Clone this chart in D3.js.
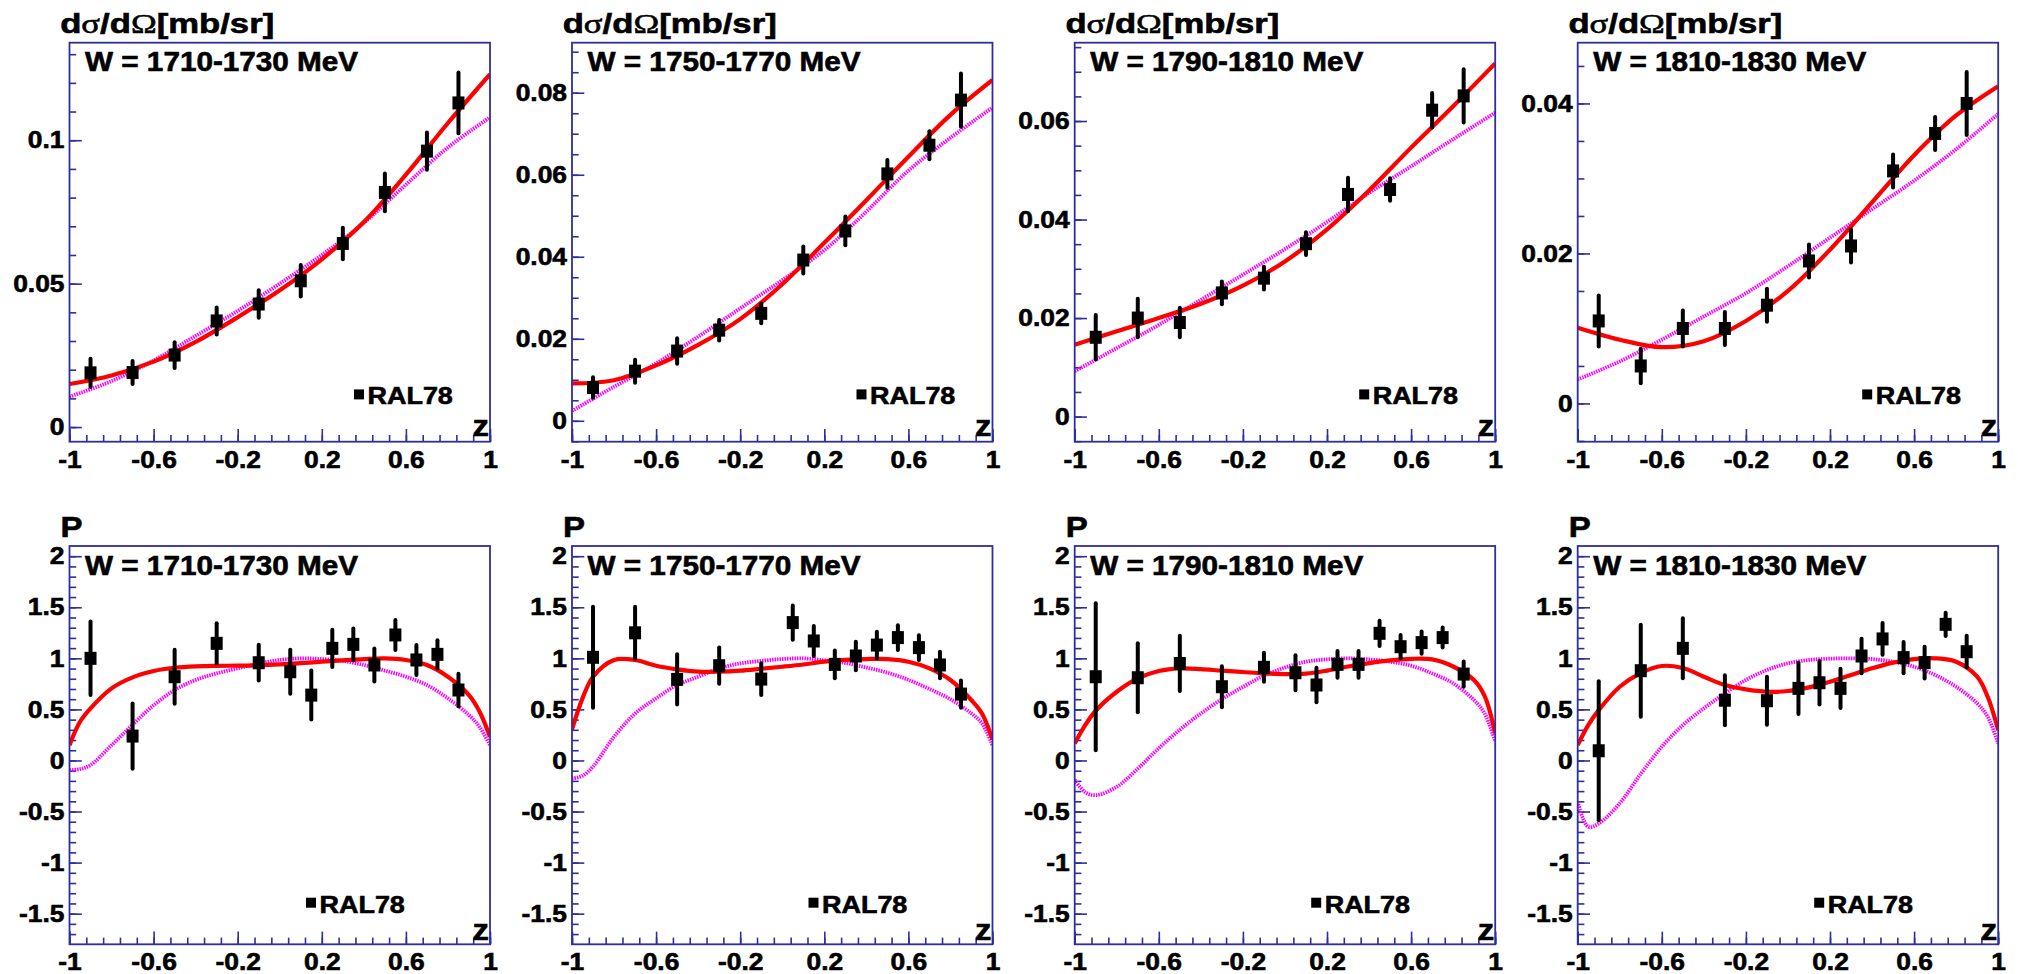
<!DOCTYPE html>
<html>
<head>
<meta charset="utf-8">
<script src="https://cdn.jsdelivr.net/npm/d3@7/dist/d3.min.js"></script>
<style>
  body { margin: 0; background: #ffffff; }
  svg { display: block; }
  text { font-family: "Liberation Sans", Arial, Helvetica, sans-serif; font-weight: bold; fill: #000; stroke: #000; stroke-width: 0.6px; }
</style>
</head>
<body>
<svg id="chart" width="2018" height="974"></svg>
<script>
// ---------- data ----------
const energyBins = ["W = 1710-1730 MeV", "W = 1750-1770 MeV", "W = 1790-1810 MeV", "W = 1810-1830 MeV"];
const legendLabel = "RAL78";

// x axis (z = cos theta)
const zTicks = [-1, -0.6, -0.2, 0.2, 0.6, 1];

// differential cross section, RAL78 points
const dsZ = [-0.9, -0.7, -0.5, -0.3, -0.1, 0.1, 0.3, 0.5, 0.7, 0.85];
const dsValues = [
  [0.0189, 0.0190, 0.0251, 0.0370, 0.0429, 0.0510, 0.0640, 0.0818, 0.0962, 0.1130],
  [0.0081, 0.0121, 0.0170, 0.0221, 0.0262, 0.0392, 0.0463, 0.0602, 0.0672, 0.0782],
  [0.0161, 0.0200, 0.0191, 0.0251, 0.0281, 0.0351, 0.0451, 0.0461, 0.0622, 0.0651],
  [0.0110, 0.0050, 0.0100, 0.0100, 0.0131, 0.0190, 0.0210, 0.0310, 0.0360, 0.0400]
];
const dsErrors = [
  [0.0049, 0.0040, 0.0045, 0.0047, 0.0048, 0.0055, 0.0055, 0.0066, 0.0065, 0.0106],
  [0.0025, 0.0028, 0.0031, 0.0025, 0.0024, 0.0033, 0.0035, 0.0034, 0.0034, 0.0065],
  [0.0045, 0.0039, 0.0030, 0.0023, 0.0023, 0.0023, 0.0034, 0.0023, 0.0035, 0.0054],
  [0.0034, 0.0023, 0.0024, 0.0022, 0.0022, 0.0022, 0.0022, 0.0022, 0.0022, 0.0042]
];
// fit curves for the cross section (solid red = full fit, dotted magenta = alternative)
const dsCurveZ = [-1, -0.8, -0.6, -0.4, -0.2, 0, 0.2, 0.4, 0.6, 0.8, 1];
const dsFitMain = [
  [0.0150, 0.0180, 0.0228, 0.0297, 0.0383, 0.0477, 0.0585, 0.0715, 0.0880, 0.1060, 0.1230],
  [0.0091, 0.0099, 0.0135, 0.0185, 0.0248, 0.0333, 0.0434, 0.0538, 0.0644, 0.0746, 0.0831],
  [0.0146, 0.0173, 0.0200, 0.0229, 0.0266, 0.0315, 0.0380, 0.0459, 0.0546, 0.0630, 0.0717],
  [0.0101, 0.0085, 0.0075, 0.0083, 0.0110, 0.0150, 0.0205, 0.0268, 0.0331, 0.0384, 0.0423]
];
const dsFitAlt = [
  [0.0106, 0.0160, 0.0232, 0.0318, 0.0405, 0.0500, 0.0600, 0.0712, 0.0845, 0.0975, 0.1080],
  [0.0024, 0.0083, 0.0140, 0.0205, 0.0274, 0.0343, 0.0416, 0.0510, 0.0610, 0.0690, 0.0764],
  [0.0092, 0.0139, 0.0186, 0.0237, 0.0288, 0.0340, 0.0395, 0.0454, 0.0508, 0.0563, 0.0617],
  [0.0032, 0.0056, 0.0085, 0.0116, 0.0147, 0.0183, 0.0221, 0.0259, 0.0297, 0.0339, 0.0386]
];
const dsYRange = [[-0.0051, 0.1340], [-0.0051, 0.0922], [-0.0051, 0.0759], [-0.0051, 0.0481]];
const dsYTicks = [[0, 0.05, 0.1], [0, 0.02, 0.04, 0.06, 0.08], [0, 0.02, 0.04, 0.06], [0, 0.02, 0.04]];
const dsYMinorStep = [0.01, 0.005, 0.005, 0.005];

// polarisation, RAL78 points
const polZ = [-0.9, -0.7, -0.5, -0.3, -0.1, 0.05, 0.15, 0.25, 0.35, 0.45, 0.55, 0.65, 0.75, 0.85];
const polValues = [
  [1.000, 0.239, 0.820, 1.147, 0.957, 0.869, 0.640, 1.098, 1.137, 0.935, 1.229, 0.984, 1.039, 0.690],
  [1.010, 1.250, 0.794, 0.928, 0.797, 1.350, 1.170, 0.941, 1.023, 1.130, 1.203, 1.105, 0.935, 0.650],
  [0.820, 0.810, 0.950, 0.722, 0.912, 0.859, 0.739, 0.941, 0.941, 1.245, 1.114, 1.154, 1.203, 0.846],
  [0.095, 0.879, 1.098, 0.590, 0.585, 0.706, 0.761, 0.706, 1.023, 1.190, 1.007, 0.958, 1.333, 1.065]
];
const polErrors = [
  [0.360, 0.320, 0.265, 0.196, 0.175, 0.216, 0.240, 0.183, 0.155, 0.162, 0.147, 0.147, 0.139, 0.158],
  [0.495, 0.255, 0.245, 0.178, 0.155, 0.167, 0.147, 0.137, 0.139, 0.131, 0.121, 0.122, 0.129, 0.134],
  [0.720, 0.338, 0.270, 0.200, 0.142, 0.171, 0.168, 0.131, 0.131, 0.123, 0.114, 0.108, 0.098, 0.124],
  [0.680, 0.450, 0.294, 0.245, 0.235, 0.250, 0.212, 0.193, 0.170, 0.155, 0.152, 0.155, 0.114, 0.155]
];
const polCurveZ = [-1, -0.95, -0.9, -0.8, -0.7, -0.6, -0.5, -0.4, -0.3, -0.2, -0.1, 0, 0.1, 0.2, 0.3, 0.4, 0.5, 0.6, 0.7, 0.8, 0.9, 0.95, 1];
const polFitMain = [
  [0.150, 0.379, 0.510, 0.706, 0.814, 0.876, 0.908, 0.922, 0.927, 0.928, 0.932, 0.941, 0.953, 0.967, 0.980, 0.993, 1.000, 0.984, 0.935, 0.820, 0.640, 0.480, 0.232],
  [0.304, 0.608, 0.820, 0.984, 0.984, 0.928, 0.892, 0.869, 0.869, 0.879, 0.898, 0.918, 0.940, 0.967, 0.985, 0.993, 0.993, 0.967, 0.902, 0.788, 0.590, 0.460, 0.206],
  [0.167, 0.346, 0.487, 0.673, 0.804, 0.876, 0.902, 0.895, 0.879, 0.866, 0.853, 0.845, 0.850, 0.880, 0.920, 0.953, 0.980, 0.995, 0.990, 0.920, 0.785, 0.630, 0.265],
  [0.150, 0.346, 0.493, 0.722, 0.856, 0.925, 0.905, 0.820, 0.739, 0.696, 0.673, 0.680, 0.716, 0.771, 0.837, 0.902, 0.958, 0.993, 1.000, 0.967, 0.820, 0.624, 0.297]
];
const polFitAlt = [
  [-0.095, -0.085, -0.045, 0.150, 0.350, 0.540, 0.690, 0.788, 0.853, 0.902, 0.950, 0.984, 1.000, 0.993, 0.975, 0.935, 0.880, 0.820, 0.739, 0.608, 0.444, 0.330, 0.150],
  [-0.176, -0.150, -0.060, 0.232, 0.460, 0.608, 0.739, 0.820, 0.902, 0.950, 0.975, 0.993, 1.000, 0.980, 0.955, 0.910, 0.860, 0.790, 0.700, 0.600, 0.460, 0.363, 0.150],
  [-0.190, -0.310, -0.340, -0.258, -0.080, 0.120, 0.300, 0.460, 0.600, 0.720, 0.830, 0.910, 0.967, 0.990, 1.000, 0.990, 0.967, 0.928, 0.853, 0.755, 0.590, 0.460, 0.183],
  [-0.405, -0.650, -0.617, -0.420, -0.130, 0.134, 0.346, 0.510, 0.657, 0.788, 0.886, 0.951, 0.984, 0.997, 1.000, 0.993, 0.967, 0.918, 0.837, 0.722, 0.559, 0.428, 0.167]
];
const polYRange = [-1.8, 2.1];
const polYTicks = [-1.5, -1, -0.5, 0, 0.5, 1, 1.5, 2];
const polYMinorStep = 0.1;

// ---------- layout ----------
const frameX = [69.5, 572, 1074.7, 1577.7];
const frameW = 420.5;
const rowTop = [42.7, 546];
const rowH = [399, 398.3];
const axisColor = "#2e2e9e";
const textScale = 1.1;

const svg = d3.select("#chart");
const fmt = d => String(+d.toFixed(4));

function stretchedText(g, x, y, str, size, anchor) {
  return g.append("text")
    .attr("transform", `translate(${x},${y}) scale(${textScale},1)`)
    .attr("font-size", size)
    .attr("text-anchor", anchor || "start")
    .text(str);
}

function minorTicks(range, step) {
  const lo = Math.ceil(range[0] / step + 1e-6), hi = Math.floor(range[1] / step - 1e-6);
  return d3.range(lo, hi + 1).map(i => +(i * step).toFixed(6));
}

function drawPanel(p) {
  const g = svg.append("g");
  const x = d3.scaleLinear().domain([-1, 1]).range([p.fx, p.fx + frameW]);
  const y = d3.scaleLinear().domain(p.yRange).range([p.fy + p.fh, p.fy]);

  const clipId = "clip" + p.id;
  g.append("clipPath").attr("id", clipId)
    .append("rect").attr("x", p.fx).attr("y", p.fy).attr("width", frameW).attr("height", p.fh);

  // y axis: minor then major ticks, pointing inward
  const yMinor = g.append("g").attr("transform", `translate(${p.fx},0)`)
    .call(d3.axisLeft(y).tickValues(minorTicks(p.yRange, p.yMinorStep)).tickSizeInner(-6.7).tickSizeOuter(0).tickFormat(""));
  const yMajor = g.append("g").attr("transform", `translate(${p.fx},0)`)
    .call(d3.axisLeft(y).tickValues(p.yTicks).tickSizeInner(-12.3).tickSizeOuter(0).tickPadding(5).tickFormat(fmt));
  yMajor.selectAll("text").attr("x", -5 / textScale).attr("transform", `scale(${textScale},1)`);

  // x axis
  const xMinorVals = d3.range(26).map(i => +(-1 + i * 0.08).toFixed(4));
  const xMinor = g.append("g").attr("transform", `translate(0,${p.fy + p.fh})`)
    .call(d3.axisBottom(x).tickValues(xMinorVals).tickSizeInner(-6.7).tickSizeOuter(0).tickFormat(""));
  const xMajor = g.append("g").attr("transform", `translate(0,${p.fy + p.fh})`)
    .call(d3.axisBottom(x).tickValues(zTicks).tickSizeInner(-12.7).tickSizeOuter(0).tickPadding(9).tickFormat(fmt));
  xMajor.selectAll("text").attr("transform", `scale(${textScale},1)`);

  [yMinor, yMajor, xMinor, xMajor].forEach(a => {
    a.select(".domain").remove();
    a.attr("font-family", null).attr("font-size", 24);
    a.selectAll("line").attr("stroke", axisColor).attr("stroke-width", 1.6);
    a.selectAll("text").attr("fill", "#000");
  });

  // curves
  const line = d3.line().x(d => x(d[0])).y(d => y(d[1])).curve(d3.curveCatmullRom.alpha(0.5));
  const curves = g.append("g").attr("clip-path", `url(#${clipId})`);
  curves.append("path")
    .attr("d", line(d3.zip(p.curveZ, p.alt)))
    .attr("fill", "none").attr("stroke", "#ff00ff").attr("stroke-width", 3.8)
    .attr("stroke-dasharray", "1.5 1");
  curves.append("path")
    .attr("d", line(d3.zip(p.curveZ, p.main)))
    .attr("fill", "none").attr("stroke", "#ff0000").attr("stroke-width", 4.2);

  // data points with error bars
  const pts = d3.zip(p.z, p.values, p.errors);
  const marks = g.append("g");
  marks.selectAll("line").data(pts).join("line")
    .attr("x1", d => x(d[0])).attr("x2", d => x(d[0]))
    .attr("y1", d => y(d[1] - d[2])).attr("y2", d => y(d[1] + d[2]))
    .attr("stroke", "#000").attr("stroke-width", 4).attr("stroke-linecap", "round");
  marks.selectAll("rect").data(pts).join("rect")
    .attr("x", d => x(d[0]) - 6).attr("y", d => y(d[1]) - 6.5)
    .attr("width", 12).attr("height", 13).attr("fill", "#000");

  // frame
  g.append("rect").attr("x", p.fx).attr("y", p.fy).attr("width", frameW).attr("height", p.fh)
    .attr("fill", "none").attr("stroke", axisColor).attr("stroke-width", 1.8);

  // energy bin label
  stretchedText(g, p.fx + 15.5, p.fy + 28.5, p.label, 27);

  // legend
  g.append("rect").attr("x", p.fx + p.legX).attr("y", p.fy + p.legY - 5).attr("width", 10).attr("height", 10).attr("fill", "#000");
  stretchedText(g, p.fx + p.legX + 13.5, p.fy + p.legY + 10, legendLabel, 24.5);

  // axis name on x
  stretchedText(g, p.fx + frameW - 1, p.fy + p.fh - p.zDy, "z", 30, "end");
}

// top row: cross sections
energyBins.forEach((lab, i) => {
  drawPanel({
    id: "ds" + i, fx: frameX[i], fy: rowTop[0], fh: rowH[0],
    yRange: dsYRange[i], yTicks: dsYTicks[i], yMinorStep: dsYMinorStep[i],
    z: dsZ, values: dsValues[i], errors: dsErrors[i],
    curveZ: dsCurveZ, main: dsFitMain[i], alt: dsFitAlt[i],
    label: lab, legX: 284.5, legY: 351.7, zDy: 6
  });
  const t = svg.append("text").attr("x", frameX[i] - 9.3).attr("y", 33.3)
    .attr("font-size", 28).attr("textLength", 214).attr("lengthAdjust", "spacingAndGlyphs");
  t.append("tspan").text("d");
  t.append("tspan").attr("font-family", "'Liberation Serif', 'DejaVu Serif', serif").attr("font-weight", "normal").text("σ");
  t.append("tspan").text("/d");
  t.append("tspan").attr("font-family", "'Liberation Serif', 'DejaVu Serif', serif").attr("font-weight", "normal").text("Ω");
  t.append("tspan").text("[mb/sr]");
});

// bottom row: polarisation
energyBins.forEach((lab, i) => {
  drawPanel({
    id: "pol" + i, fx: frameX[i], fy: rowTop[1], fh: rowH[1],
    yRange: polYRange, yTicks: polYTicks, yMinorStep: polYMinorStep,
    z: polZ, values: polValues[i], errors: polErrors[i],
    curveZ: polCurveZ, main: polFitMain[i], alt: polFitAlt[i],
    label: lab, legX: 236.5, legY: 356.7, zDy: 4.3
  });
  stretchedText(svg, frameX[i] - 9, 536.7, "P", 30);
});
</script>
</body>
</html>
